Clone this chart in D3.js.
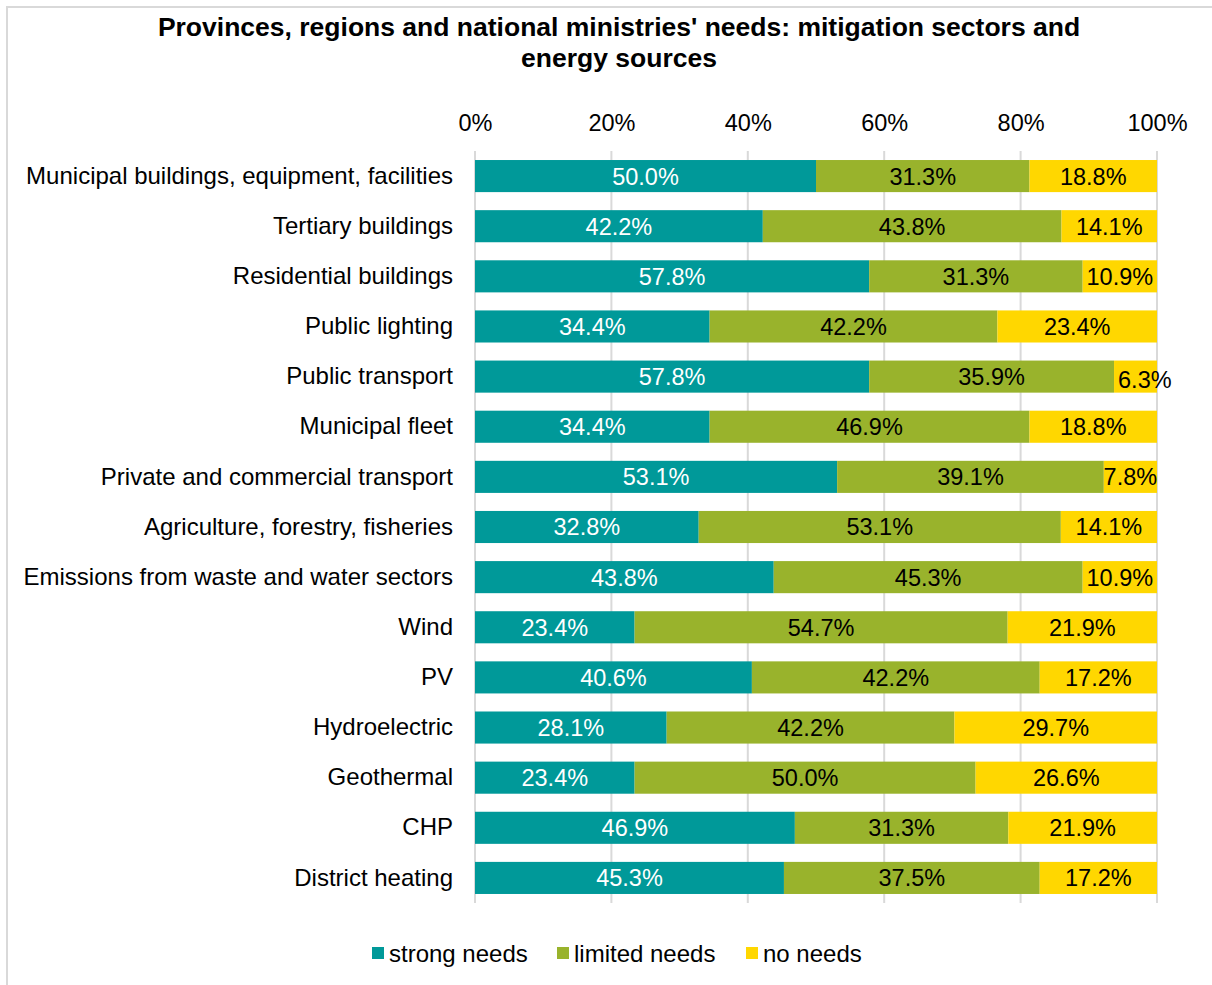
<!DOCTYPE html>
<html>
<head>
<meta charset="utf-8">
<script src="https://cdn.jsdelivr.net/npm/d3@7"></script>
<style>
  html, body { margin: 0; padding: 0; background: #fff; }
  svg { display: block; font-family: "Liberation Sans", Arial, sans-serif; }
</style>
</head>
<body>
<svg id="chart" width="1212" height="985"></svg>
<script>
// Sectors and energy sources, top to bottom
const categories = [
  "Municipal buildings, equipment, facilities",
  "Tertiary buildings",
  "Residential buildings",
  "Public lighting",
  "Public transport",
  "Municipal fleet",
  "Private and commercial transport",
  "Agriculture, forestry, fisheries",
  "Emissions from waste and water sectors",
  "Wind",
  "PV",
  "Hydroelectric",
  "Geothermal",
  "CHP",
  "District heating"
];

// Share of respondents (%) per need level
const strongNeeds  = [50.0, 42.2, 57.8, 34.4, 57.8, 34.4, 53.1, 32.8, 43.8, 23.4, 40.6, 28.1, 23.4, 46.9, 45.3];
const limitedNeeds = [31.3, 43.8, 31.3, 42.2, 35.9, 46.9, 39.1, 53.1, 45.3, 54.7, 42.2, 42.2, 50.0, 31.3, 37.5];
const noNeeds      = [18.8, 14.1, 10.9, 23.4,  6.3, 18.8,  7.8, 14.1, 10.9, 21.9, 17.2, 29.7, 26.6, 21.9, 17.2];

const seriesNames = ["strong needs", "limited needs", "no needs"];
const seriesColors = ["#009999", "#99b32c", "#ffd700"];
const labelColors = ["#ffffff", "#000000", "#000000"];
const tickValues = [0, 20, 40, 60, 80, 100];

const title = ["Provinces, regions and national ministries' needs: mitigation sectors and", "energy sources"];

const svg = d3.select("#chart");

// Outer frame
svg.append("path")
  .attr("d", "M7,985 V7 H1212")
  .attr("fill", "none")
  .attr("stroke", "#d9d9d9")
  .attr("stroke-width", 2);

// Title
svg.append("text")
  .attr("x", 619).attr("y", 36)
  .attr("text-anchor", "middle")
  .attr("font-size", 26.5).attr("font-weight", "bold")
  .selectAll("tspan").data(title).join("tspan")
  .attr("x", 619)
  .attr("dy", (d, i) => i === 0 ? 0 : 31)
  .text(d => d);

const x = d3.scaleLinear().domain([0, 100]).range([475, 1157]);
const y = d3.scaleBand().domain(categories).range([151, 903]).paddingInner(0.36).paddingOuter(0.18);

// Vertical gridlines
svg.append("g")
  .selectAll("line").data(tickValues).join("line")
  .attr("x1", d => x(d)).attr("x2", d => x(d))
  .attr("y1", 151).attr("y2", 903)
  .attr("stroke", "#d9d9d9").attr("stroke-width", 2);

// Top axis labels
const xAxis = d3.axisTop(x).tickValues(tickValues).tickFormat(d => d + "%").tickSize(0).tickPadding(0);
const ax = svg.append("g").attr("transform", "translate(0,131)").call(xAxis);
ax.select(".domain").remove();
ax.selectAll("text").attr("font-size", 23.5).attr("fill", "#000").attr("font-family", "Liberation Sans, Arial, sans-serif");

// Category labels
const yAxis = d3.axisLeft(y).tickSize(0).tickPadding(0);
const ay = svg.append("g").attr("transform", "translate(453,0)").call(yAxis);
ay.select(".domain").remove();
ay.selectAll("text").attr("font-size", 24).attr("fill", "#000").attr("font-family", "Liberation Sans, Arial, sans-serif");

// Stacked data
const rows = categories.map((c, i) => ({ cat: c, s0: strongNeeds[i], s1: limitedNeeds[i], s2: noNeeds[i] }));
const stack = d3.stack().keys(["s0", "s1", "s2"]);
const layers = stack(rows);

const groups = svg.append("g").selectAll("g").data(layers).join("g")
  .attr("fill", (d, i) => seriesColors[i]);

groups.selectAll("rect").data(d => d).join("rect")
  .attr("x", d => x(d[0]))
  .attr("y", d => y(d.data.cat))
  .attr("width", d => Math.min(x(d[1]), x(100)) - x(d[0]))
  .attr("height", y.bandwidth());

// Value labels centred in each segment
layers.forEach((layer, li) => {
  const g = svg.append("g");
  layer.forEach(d => {
    const x0 = x(d[0]), x1 = Math.min(x(d[1]), x(100));
    const t = g.append("text")
      .attr("x", (x0 + x1) / 2)
      .attr("y", y(d.data.cat) + y.bandwidth() / 2)
      .attr("dy", "0.36em")
      .attr("text-anchor", "middle")
      .attr("font-size", 23.5)
      .attr("fill", labelColors[li])
      .text(d.data["s" + li].toFixed(1) + "%");
    const w = t.node().getComputedTextLength();
    if (w > (x1 - x0) + 6) {
      // narrow segment: start the label at the segment's left edge
      t.attr("x", x0 + 4).attr("text-anchor", "start").attr("dy", "0.48em");
    }
  });
});

// Legend
const legend = svg.append("g").attr("transform", "translate(372,953)");
const legendGap = [0, 185, 374];
seriesNames.forEach((name, i) => {
  const item = legend.append("g").attr("transform", `translate(${legendGap[i]},0)`);
  item.append("rect").attr("x", 0).attr("y", -6).attr("width", 12).attr("height", 12).attr("fill", seriesColors[i]);
  item.append("text").attr("x", 17).attr("y", 0).attr("dy", "0.36em")
    .attr("font-size", 24).attr("fill", "#000").text(name);
});
</script>
</body>
</html>
